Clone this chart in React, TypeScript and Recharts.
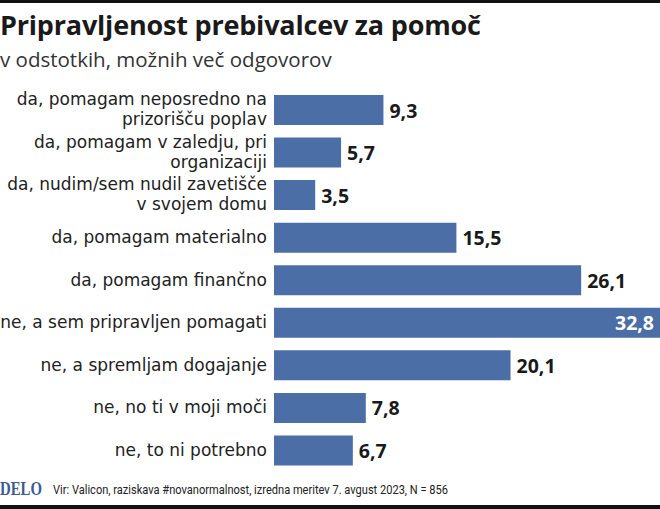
import React from "react";
import { BarChart, Bar, XAxis, YAxis, LabelList } from "recharts";

const categories = [
  "da, pomagam neposredno na\nprizorišču poplav",
  "da, pomagam v zaledju, pri\norganizaciji",
  "da, nudim/sem nudil zavetišče\nv svojem domu",
  "da, pomagam materialno",
  "da, pomagam finančno",
  "ne, a sem pripravljen pomagati",
  "ne, a spremljam dogajanje",
  "ne, no ti v moji moči",
  "ne, to ni potrebno",
];
const values = [9.3, 5.7, 3.5, 15.5, 26.1, 32.8, 20.1, 7.8, 6.7];

const data = categories.map((c, i) => ({ name: c, value: values[i] }));

const FONT = "'Open Sans', 'Noto Sans', sans-serif";
const LABEL_FONT = "'DejaVu Sans', 'Open Sans', sans-serif";
const BAR_COLOR = "#4b6ea6";

const fmt = (v: number) => v.toFixed(1).replace(".", ",");

const YTick = (props: any) => {
  const { x, y, payload } = props;
  const lines = String(payload.value).split("\n");
  const lh = 20;
  const start = y - 1 - ((lines.length - 1) * lh) / 2;
  const tx = x + 1;
  return (
    <text
      x={tx}
      y={start}
      textAnchor="end"
      fontFamily={LABEL_FONT}
      fontSize={17}
      fill="#222"
      dominantBaseline="central"
    >
      {lines.map((l: string, i: number) => (
        <tspan key={i} x={tx} y={start + i * lh} dominantBaseline="central">
          {l}
        </tspan>
      ))}
    </text>
  );
};

const ValueLabel = (props: any) => {
  const { x, y, width, height, value } = props;
  const cy = y + height / 2;
  const inside = value >= 30;
  return (
    <text
      x={inside ? x + width - 6 : x + width + 6}
      y={cy}
      textAnchor={inside ? "end" : "start"}
      dominantBaseline="central"
      fontFamily={FONT}
      fontWeight={700}
      fontSize={19.5}
      fill={inside ? "#fff" : "#1a1a1a"}
    >
      {fmt(value)}
    </text>
  );
};

export default function App() {
  return (
    <div
      style={{
        position: "absolute",
        left: 0,
        top: 0,
        width: 660,
        height: 509,
        background: "#fff",
        overflow: "hidden",
        fontFamily: FONT,
      }}
    >
      <div style={{ position: "absolute", left: 0, top: 0, width: 660, height: 3, background: "#111" }} />
      <div
        style={{
          position: "absolute",
          left: 0,
          top: 6,
          fontSize: 27,
          fontWeight: 700,
          color: "#1a1a1a",
          whiteSpace: "nowrap",
          letterSpacing: -0.2,
        }}
      >
        Pripravljenost prebivalcev za pomoč
      </div>
      <div
        style={{
          position: "absolute",
          left: 0,
          top: 45,
          fontSize: 20.5,
          color: "#333",
          whiteSpace: "nowrap",
        }}
      >
        v odstotkih, možnih več odgovorov
      </div>
      <div style={{ position: "absolute", left: 0, top: 0 }}>
        <BarChart
          width={660}
          height={509}
          data={data}
          layout="vertical"
          margin={{ top: 89, right: 0, bottom: 37, left: 0 }}
        >
          <XAxis type="number" domain={[0, 32.8]} hide />
          <YAxis
            type="category"
            dataKey="name"
            width={274}
            axisLine={false}
            tickLine={false}
            tick={<YTick />}
            interval={0}
          />
          <Bar dataKey="value" fill={BAR_COLOR} barSize={30} isAnimationActive={false}>
            <LabelList dataKey="value" content={<ValueLabel />} />
          </Bar>
        </BarChart>
      </div>
      <div
        style={{
          position: "absolute",
          left: 0,
          top: 478,
          fontFamily: "'Liberation Serif', 'DejaVu Serif', serif",
          fontWeight: 700,
          fontSize: 19,
          color: "#3b5d91",
          transform: "scaleX(0.78)",
          transformOrigin: "left",
          whiteSpace: "nowrap",
        }}
      >
        DELO
      </div>
      <div
        style={{
          position: "absolute",
          left: 53,
          top: 481,
          fontSize: 13.5,
          color: "#222",
          whiteSpace: "nowrap",
          fontFamily: "'Roboto', 'Noto Sans', sans-serif",
          transform: "scaleX(0.82)",
          transformOrigin: "left",
        }}
      >
        Vir: Valicon, raziskava #novanormalnost, izredna meritev 7. avgust 2023, N = 856
      </div>
      <div style={{ position: "absolute", left: 0, top: 505, width: 660, height: 4, background: "#111" }} />
    </div>
  );
}
